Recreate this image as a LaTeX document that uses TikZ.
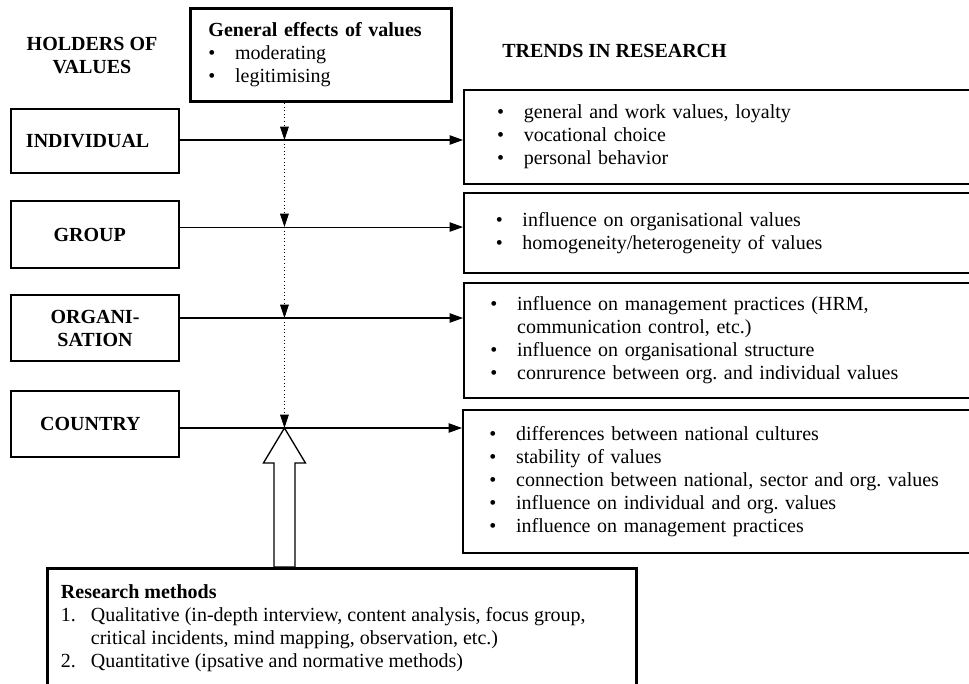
\documentclass[tikz,border=0pt]{standalone}
\usepackage{fontspec}
\setmainfont{Liberation Serif}
\usetikzlibrary{positioning,calc,arrows.meta}
\newcommand{\itm}[1]{\makebox[20pt][l]{\textbullet}#1}
\frenchspacing

\begin{document}
\begin{tikzpicture}[x=0.75pt, y=-0.75pt,
  every node/.style={font=\fontsize{15}{17.25}\selectfont},
  head/.style={font=\fontsize{15}{17.25}\selectfont\bfseries, align=center, inner sep=0pt},
  holder/.style={draw, line width=1.2pt, minimum width=126pt, font=\fontsize{15}{17.25}\selectfont\bfseries, align=center},
  trend/.style={draw, line width=1.2pt, anchor=north west, minimum width=391.5pt, align=left},
  harr/.style={-{Triangle[length=10pt,width=7pt]}, line width=0.8pt},
  darr/.style={-{Triangle[length=10pt,width=6.5pt]}, dotted, line width=0.7pt},
  hollow/.style={line width=1pt, line join=miter}]
\useasboundingbox (0,0) rectangle (969,684);

\node[head] (hold) at (92,56) {HOLDERS OF\\VALUES};
\node[head, anchor=west] (trends) at (502,51) {TRENDS IN RESEARCH};

\node[draw, line width=2.2pt, anchor=north west, minimum width=195.75pt, minimum height=69.75pt, text width=168.75pt, inner xsep=13.5pt, align=left] (gen) at (189,7)
  {\textbf{General effects of values}\\ \itm{moderating}\\ \itm{legitimising}};

\node[holder, minimum height=48pt] (ind) at (95,141) {\hspace*{-11pt}INDIVIDUAL};
\node[holder, minimum height=50.25pt] (grp) at (95,234.5) {\hspace*{-8pt}GROUP};
\node[holder, minimum height=49.5pt] (org) at (95,328) {ORGANI-\\SATION};
\node[holder, minimum height=49.5pt] (cty) at (95,424) {\hspace*{-7pt}COUNTRY};

\node[trend, minimum height=70.5pt, inner xsep=25pt, text width=341.5pt] (t1) at (463,89)
  {\itm{general and work values, loyalty}\\ \itm{vocational choice}\\ \itm{personal behavior}};
\node[trend, minimum height=60pt, inner xsep=24pt, text width=343.5pt] (t2) at (463,192)
  {\itm{influence on organisational values}\\ \itm{homogeneity/heterogeneity of values}};
\node[trend, minimum height=86.25pt, inner xsep=20pt, text width=351.5pt] (t3) at (463,282)
  {\itm{influence on management practices (HRM,}\\ \hspace*{20pt}communication control, etc.)\\
   \itm{influence on organisational structure}\\ \itm{conrurence between org. and individual values}};
\node[trend, minimum height=107.25pt, inner xsep=20pt, text width=352.25pt] (t4) at (462,409)
  {\itm{differences between national cultures}\\ \itm{stability of values}\\
   \itm{connection between national, sector and org. values}\\
   \itm{influence on individual and org. values}\\ \itm{influence on management practices}};

\node[draw, line width=2.2pt, anchor=north west, minimum width=441.75pt, minimum height=112.5pt] (meth) at (46,567) {};
\node[inner sep=0pt, align=left, below right=12.75pt and 11pt of meth.north west] (methtxt)
  {\textbf{Research methods}\\
   \makebox[22.5pt][l]{1.}Qualitative (in-depth interview, content analysis, focus group,\\
   \hspace*{22.5pt}critical incidents, mind mapping, observation, etc.)\\
   \makebox[22.5pt][l]{2.}Quantitative (ipsative and normative methods)};

\coordinate (a1) at ([yshift=0.75pt]ind.east);
\coordinate (a2) at ([yshift=5.6pt]grp.east);
\coordinate (a3) at ([yshift=7.5pt]org.east);
\coordinate (a4) at ([yshift=-3pt]cty.east);
\foreach \i in {1,...,4}
  \draw[harr] (a\i) -- (a\i -| t\i.west);

\coordinate (d0) at ([xshift=-27.4pt]gen.south);
\foreach \i in {1,...,4}
  \coordinate (c\i) at (d0 |- a\i);
\draw[darr] (d0) -- (c1);
\foreach \i/\j in {1/2,2/3,3/4}
  \draw[darr] (c\i) -- (c\j);

\coordinate (hb) at (meth.north -| c4);
\draw[hollow] (c4) -- ++(21,35) -- ++(-10.5,0) -- ($(hb)+(10.5,0)$) -- ($(hb)+(-10.5,0)$)
  -- ($(c4)+(-10.5,35)$) -- ++(-10.5,0) -- cycle;
\end{tikzpicture}
\end{document}
